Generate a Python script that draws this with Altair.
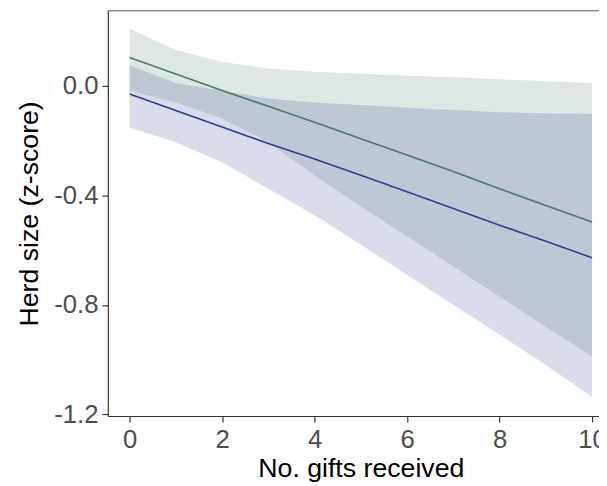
import altair as alt
import pandas as pd

gifts = [0, 1, 2, 3, 4, 5, 6, 7, 8, 9, 10]

green_fit = [0.103, 0.043, -0.017, -0.075, -0.133, -0.193, -0.253, -0.313, -0.376, -0.437, -0.497]
green_lo = [-0.018, -0.061, -0.119, -0.206, -0.327, -0.44, -0.55, -0.66, -0.77, -0.88, -0.99]
green_hi = [0.208, 0.131, 0.087, 0.063, 0.051, 0.044, 0.037, 0.031, 0.024, 0.017, 0.01]

blue_fit = [-0.03, -0.09, -0.15, -0.211, -0.267, -0.327, -0.387, -0.448, -0.509, -0.568, -0.628]
blue_lo = [-0.152, -0.206, -0.279, -0.376, -0.473, -0.58, -0.69, -0.80, -0.909, -1.02, -1.137]
blue_hi = [0.075, 0.01, -0.018, -0.046, -0.061, -0.07, -0.08, -0.088, -0.097, -0.10, -0.103]

y_ticks = [0.0, -0.4, -0.8, -1.2]
x_ticks = [0, 2, 4, 6, 8, 10]

GREEN = "#4a7a66"
BLUE = "#2a3d8f"

green_df = pd.DataFrame({"x": gifts, "fit": green_fit, "lo": green_lo, "hi": green_hi})
blue_df = pd.DataFrame({"x": gifts, "fit": blue_fit, "lo": blue_lo, "hi": blue_hi})

W, H = 497, 410
xscale = alt.Scale(domain=[-0.47, 10.15], nice=False, zero=False)
yscale = alt.Scale(domain=[-1.206, 0.274], nice=False, zero=False)

xaxis = alt.Axis(values=x_ticks, format="d", title="No. gifts received", titleX=256)
yaxis = alt.Axis(
    values=y_ticks,
    format=".1f",
    labelExpr="replace(datum.label, '\u2212', '-')",
    title="Herd size (z-score)",
)

def band(df, color):
    return alt.Chart(df).mark_area(color=color, opacity=0.18, interpolate="linear").encode(
        x=alt.X("x:Q", scale=xscale, axis=xaxis),
        y=alt.Y("lo:Q", scale=yscale, axis=yaxis),
        y2="hi:Q",
    )

def line(df, color):
    return alt.Chart(df).mark_line(color=color, strokeWidth=1.6).encode(
        x=alt.X("x:Q", scale=xscale, axis=xaxis),
        y=alt.Y("fit:Q", scale=yscale, axis=yaxis),
    )

top = alt.Chart(pd.DataFrame({"a": [0]})).mark_rule(color="#555555", strokeWidth=1).encode(
    x=alt.value(0), x2=alt.value(W), y=alt.value(0)
)

chart = alt.layer(
    band(green_df, GREEN), band(blue_df, BLUE), line(green_df, GREEN), line(blue_df, BLUE), top
).properties(
    width=W, height=H,
    autosize=alt.AutoSizeParams(type="none"),
    padding={"left": 101, "top": 0, "right": 0, "bottom": 68},
).configure_view(stroke=None).configure_axis(
    grid=False,
    labelFont="Liberation Sans",
    titleFont="Liberation Sans",
    labelFontSize=26,
    titleFontSize=27,
    labelColor="#4d4d4d",
    titleColor="#000000",
    titleFontWeight="normal",
    domainColor="#333333",
    tickColor="#333333",
    domainWidth=1.2,
    tickWidth=1.2,
    tickSize=6,
    labelPadding=4,
).configure_axisY(titlePadding=10).configure_axisX(labelPadding=5, titlePadding=3)

chart.save("out.html", embed_options={"renderer": "svg", "actions": False})
